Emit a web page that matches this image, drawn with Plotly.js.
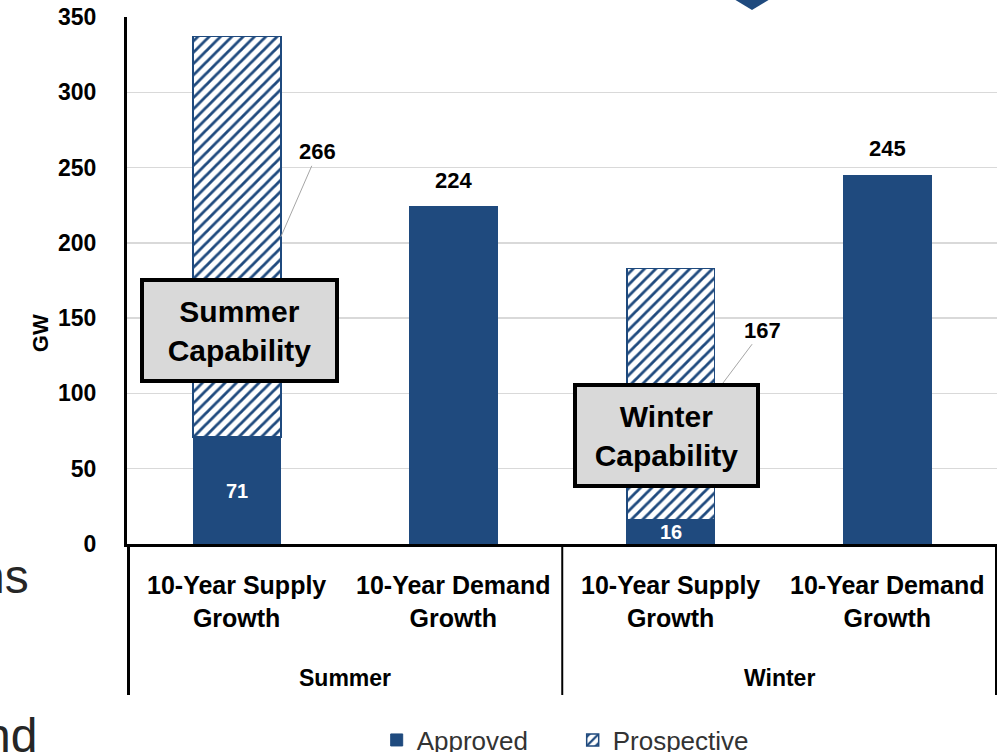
<!DOCTYPE html>
<html><head><meta charset="utf-8">
<script src="https://cdn.plot.ly/plotly-3.0.1.min.js"></script>
<style>html,body{margin:0;padding:0;background:#fff}#chart{width:1007px;height:752px}</style>
</head><body><div id="chart"></div>
<script>
const seasons = ["Summer", "Summer", "Winter", "Winter"];
const metrics = ["10-Year Supply<br>Growth", "10-Year Demand<br>Growth", "10-Year Supply<br>Growth", "10-Year Demand<br>Growth"];
const approved = [71, 224, 16, 245];
const prospective = [266, null, 167, null];
const seriesNames = ["Approved", "Prospective"];
const boxLabels = ["Summer<br>Capability", "Winter<br>Capability"];
const yTickVals = [0, 50, 100, 150, 200, 250, 300, 350];

const BLUE = "#1F4A7E";
const FONT = "'Liberation Sans', Arial, sans-serif";
const barWidth = 0.405;

const traces = [
  {
    type: "bar", name: seriesNames[0], x: [seasons, metrics], y: approved,
    width: barWidth,
    marker: { color: BLUE, line: { color: BLUE, width: 1 } },
    hoverinfo: "skip"
  },
  {
    type: "bar", name: seriesNames[1], x: [seasons, metrics], y: prospective,
    width: barWidth,
    marker: {
      color: "#ffffff",
      line: { color: BLUE, width: 1.5 },
      pattern: { shape: "/", fgcolor: BLUE, bgcolor: "#ffffff", size: 8, solidity: 0.35, fillmode: "replace" }
    },
    hoverinfo: "skip"
  }
];

const annotations = [];
const shapes = [];

// category tick labels (inner level)
metrics.forEach((m, i) => {
  annotations.push({ x: i, y: -0.110, xref: "x", yref: "paper", text: m, showarrow: false,
    yanchor: "middle", font: { family: FONT, size: 25, color: "#000000", weight: "bold" } });
});
// group labels (outer level) and dividers
const groups = [];
seasons.forEach((s, i) => {
  if (!groups.length || groups[groups.length - 1].name !== s) groups.push({ name: s, start: i, end: i });
  else groups[groups.length - 1].end = i;
});
groups.forEach(g => {
  annotations.push({ x: (g.start + g.end) / 2, y: -0.254, xref: "x", yref: "paper", text: g.name, showarrow: false,
    yanchor: "middle", font: { family: FONT, size: 23, color: "#000000", weight: "bold" } });
  shapes.push({ type: "line", xref: "x", yref: "paper", x0: g.start - 0.5, x1: g.start - 0.5, y0: 0, y1: -0.2865,
    line: { color: "#000000", width: g.start === 0 ? 3 : 2 } });
});
shapes.push({ type: "line", xref: "x", yref: "paper", x0: seasons.length - 0.5, x1: seasons.length - 0.5, y0: 0, y1: -0.2865,
  line: { color: "#000000", width: 2 } });

// data labels
approved.forEach((v, i) => {
  if (prospective[i] != null) {
    annotations.push({ x: i, y: v / 2, xref: "x", yref: "y", text: String(v), showarrow: false,
      font: { family: FONT, size: 20, color: "#ffffff", weight: "bold" } });
  } else {
    annotations.push({ x: i, y: v, xref: "x", yref: "y", text: String(v), showarrow: false,
      yanchor: "bottom", yshift: 12,
      font: { family: FONT, size: 22, color: "#000000", weight: "bold" } });
  }
});
const leaderOffsets = { 0: [37, -85], 2: [48, -64] };
prospective.forEach((v, i) => {
  if (v == null) return;
  annotations.push({ x: i + barWidth / 2, y: approved[i] + v / 2, xref: "x", yref: "y",
    text: String(v), showarrow: true, arrowhead: 0, arrowwidth: 1, arrowcolor: "#a6a6a6",
    ax: leaderOffsets[i][0], ay: leaderOffsets[i][1], standoff: 0,
    font: { family: FONT, size: 22, color: "#000000", weight: "bold" } });
});
// capability call-out boxes
annotations.push({ x: 0.01, y: 142, xref: "x", yref: "y", text: boxLabels[0], showarrow: false,
  bgcolor: "#d9d9d9", bordercolor: "#000000", borderwidth: 4, borderpad: 4, width: 183, height: 89,
  font: { family: FONT, size: 30, color: "#000000", weight: "bold" } });
annotations.push({ x: 1.98, y: 72, xref: "x", yref: "y", text: boxLabels[1], showarrow: false,
  bgcolor: "#d9d9d9", bordercolor: "#000000", borderwidth: 4, borderpad: 4, width: 171, height: 89,
  font: { family: FONT, size: 30, color: "#000000", weight: "bold" } });
// y axis title
annotations.push({ x: -0.1, y: 0.40, xref: "paper", yref: "paper", xanchor: "center", yanchor: "middle",
  text: "GW", textangle: -90, showarrow: false,
  font: { family: FONT, size: 22, color: "#000000", weight: "bold" } });
// slide text fragments at left edge
annotations.push({ x: -0.1105, y: -0.0626, xref: "paper", yref: "paper", xanchor: "right", yanchor: "middle",
  text: "ns", showarrow: false,
  font: { family: FONT, size: 48, color: "#262626" } });
annotations.push({ x: -0.101, y: -0.364, xref: "paper", yref: "paper", xanchor: "right", yanchor: "middle",
  text: "nd", showarrow: false,
  font: { family: FONT, size: 48, color: "#262626" } });

// partial diamond at the top edge
shapes.push({ type: "path", xref: "paper", yref: "paper", layer: "above",
  path: "M 0.6816 1.05 L 0.7552 1.05 L 0.7184 1.0133 Z",
  fillcolor: BLUE, line: { width: 0 } });

const layout = {
  width: 1007, height: 752,
  margin: { l: 127, r: 10, t: 17, b: 208, autoexpand: false },
  paper_bgcolor: "#ffffff", plot_bgcolor: "#ffffff",
  barmode: "stack",
  showlegend: true,
  legend: { orientation: "h", x: 0.287, xanchor: "left", y: -0.372, yanchor: "middle",
    font: { family: FONT, size: 26, color: "#333333" }, traceorder: "normal",
    itemwidth: 30, entrywidth: 151, entrywidthmode: "pixels" },
  xaxis: {
    type: "multicategory",
    showline: true, linecolor: "#000000", linewidth: 3,
    showgrid: false, zeroline: false,
    showticklabels: false, showdividers: false, ticks: "",
    automargin: false, fixedrange: true
  },
  yaxis: {
    range: [0, 350], tickvals: yTickVals,
    showline: true, linecolor: "#000000", linewidth: 3,
    showgrid: true, gridcolor: "#d9d9d9", gridwidth: 1.5,
    zeroline: false,
    ticks: "outside", ticklen: 23, tickcolor: "rgba(0,0,0,0)",
    tickfont: { family: FONT, size: 23, color: "#000000", weight: "bold" },
    automargin: false, fixedrange: true
  },
  annotations: annotations,
  shapes: shapes
};

Plotly.newPlot("chart", traces, layout, { staticPlot: true, displayModeBar: false });
</script></body></html>
